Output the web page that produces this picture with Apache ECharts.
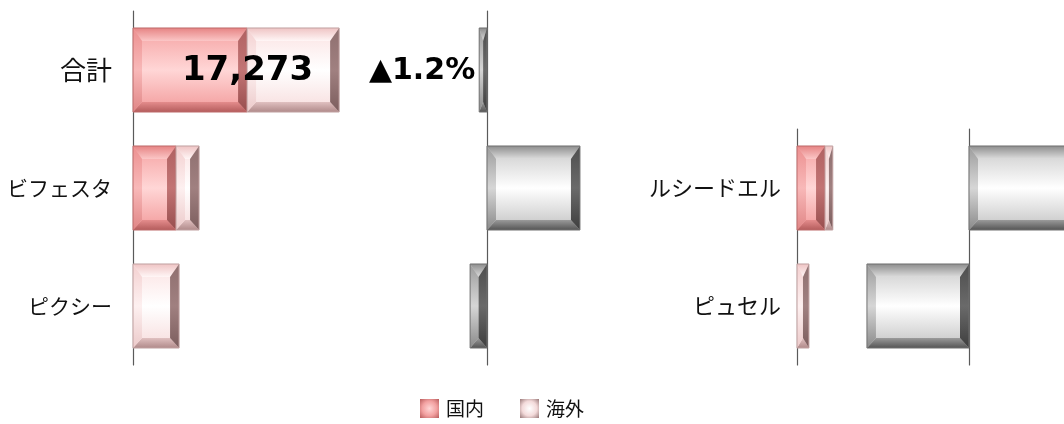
<!DOCTYPE html>
<html><head><meta charset="utf-8">
<script src="https://cdn.jsdelivr.net/npm/echarts@6/dist/echarts.min.js"></script>
<style>html,body{margin:0;padding:0;background:#fff}#c{width:1064px;height:424px}</style>
</head><body><div id="c"></div>
<script>
// ---- data ----
const categoriesA = ['合計', 'ビフェスタ', 'ピクシー'];
const domesticA = [9560, 3605, 0];
const overseasA = [7713, 1930, 3860];
const growthA = [-1.2, 14.3, -2.6];

const categoriesB = ['ルシードエル', 'ピュセル'];
const domesticB = [2350, 0];
const overseasB = [650, 1000];
const growthB = [18.0, -15.7];

const legendNames = ['国内', '海外'];
const labeledCategory = '合計';

// ---- styling ----
const JP = '"Noto Sans CJK JP", "Noto Sans", sans-serif';
const BAR_RATIO = 0.712;
const AXIS_COLOR = '#5a5a5a';

function lin(stops) {
  return {type: 'linear', x: 0, y: 0, x2: 0, y2: 1, global: false,
    colorStops: stops.map(s => ({offset: s[0], color: s[1]}))};
}
const PAL = {
  red: {
    face: [[0, '#f5a2a2'], [0.5, '#ffd6d6'], [1, '#f29a9a']],
    top: [[0, '#e68484'], [1, '#fbc6c6']],
    bottom: [[0, '#e48c8c'], [1, '#b45c5c']],
    left: [[0, '#ec9090'], [0.5, '#f8b8b8'], [1, '#e08686']],
    right: [[0, '#b06262'], [0.5, '#c27474'], [1, '#984e4e']],
    stroke: '#bd6a6a'
  },
  pink: {
    face: [[0, '#fbe2e2'], [0.5, '#ffffff'], [1, '#f7dcdc']],
    top: [[0, '#efc4c4'], [1, '#fff6f6']],
    bottom: [[0, '#e0c0c0'], [1, '#b08a8a']],
    left: [[0, '#f3d0d0'], [0.5, '#fdf0f0'], [1, '#eccaca']],
    right: [[0, '#8f7070'], [0.5, '#a08080'], [1, '#7c5e5e']],
    stroke: '#c0a0a0'
  },
  grey: {
    face: [[0, '#c9c9c9'], [0.5, '#ffffff'], [1, '#c2c2c2']],
    top: [[0, '#8e8e8e'], [1, '#dcdcdc']],
    bottom: [[0, '#9a9a9a'], [1, '#555555']],
    left: [[0, '#9c9c9c'], [0.5, '#d6d6d6'], [1, '#8a8a8a']],
    right: [[0, '#4e4e4e'], [0.5, '#6a6a6a'], [1, '#3e3e3e']],
    stroke: '#707070'
  }
};

function makeRender(pal, cats, labelKind) {
  return function (params, api) {
    const cat = api.value(0), s = api.value(1), e = api.value(2);
    if (s === e) return null;
    const pa = api.coord([s, cat]), pb = api.coord([e, cat]);
    const h = api.size([0, 1])[1] * BAR_RATIO;
    const x0 = Math.min(pa[0], pb[0]), x1 = Math.max(pa[0], pb[0]);
    const y0 = pa[1] - h / 2, y1 = pa[1] + h / 2;
    const w = x1 - x0;
    const bx = Math.min(9, w / 2), bt = Math.min(13, h / 2), bb = Math.min(10, h / 2);
    const children = [
      {type: 'rect', shape: {x: x0, y: y0, width: w, height: h}, style: {fill: lin(pal.face)}},
      {type: 'polygon', shape: {points: [[x0, y0], [x1, y0], [x1 - bx, y0 + bt], [x0 + bx, y0 + bt]]}, style: {fill: lin(pal.top)}},
      {type: 'polygon', shape: {points: [[x0, y1], [x1, y1], [x1 - bx, y1 - bb], [x0 + bx, y1 - bb]]}, style: {fill: lin(pal.bottom)}},
      {type: 'polygon', shape: {points: [[x0, y0], [x0 + bx, y0 + bt], [x0 + bx, y1 - bb], [x0, y1]]}, style: {fill: lin(pal.left)}},
      {type: 'polygon', shape: {points: [[x1, y0], [x1 - bx, y0 + bt], [x1 - bx, y1 - bb], [x1, y1]]}, style: {fill: lin(pal.right)}},
      {type: 'rect', shape: {x: x0, y: y0, width: w, height: h}, style: {fill: 'none', stroke: pal.stroke, lineWidth: 1}}
    ];
    if (labelKind && cats[cat] === labeledCategory) {
      if (labelKind === 'total') {
        children.push({type: 'text', z2: 10, style: {
          text: Math.round(e).toLocaleString('en-US'), x: x1 - 26, y: pa[1] + 1,
          align: 'right', verticalAlign: 'middle',
          fontSize: 34, fontWeight: 'bold', fontFamily: '"DejaVu Sans"', fill: '#000'}});
      } else if (labelKind === 'growth') {
        const v = e;
        const txt = (v < 0 ? '▲' : '') + Math.abs(v).toFixed(1) + '%';
        children.push({type: 'text', z2: 10, style: {
          text: txt, x: v < 0 ? x0 - 4 : x1 + 4, y: pa[1] + 1,
          align: v < 0 ? 'right' : 'left', verticalAlign: 'middle',
          fontSize: 30, fontWeight: 'bold', fontFamily: '"DejaVu Sans"', fill: '#000'}});
      }
    }
    return {type: 'group', children};
  };
}

function stackData(base, vals) {
  return vals.map((v, i) => [i, base ? base[i] : 0, (base ? base[i] : 0) + v]);
}
function growthData(vals) {
  return vals.map((v, i) => [i, 0, v]);
}

const catAxis = (gi, cats, showLabel, fs, margin) => ({
  type: 'category', gridIndex: gi, data: cats, inverse: true,
  axisLine: {show: true, onZero: true, lineStyle: {color: AXIS_COLOR, width: 1.2}},
  axisTick: {show: false}, splitLine: {show: false},
  axisLabel: {show: showLabel, fontSize: fs, margin: margin, color: '#111', fontFamily: JP,
    formatter: v => v === labeledCategory ? '{big|' + v + '}' : v,
    rich: {big: {fontSize: 26, fontFamily: JP, color: '#111'}}}
});
const valAxis = (gi, min, max) => ({
  type: 'value', gridIndex: gi, min: min, max: max, show: false,
  splitLine: {show: false}
});

const chart = echarts.init(document.getElementById('c'), null, {renderer: 'canvas'});
chart.setOption({
  animation: false,
  backgroundColor: '#fff',
  legend: {
    data: [
      {name: legendNames[0], icon: 'rect', itemStyle: {color: {type: 'radial', x: 0.5, y: 0.5, r: 0.7,
        colorStops: [{offset: 0, color: '#ffd6d6'}, {offset: 0.55, color: '#f2a0a0'}, {offset: 1, color: '#b85c5c'}]}}},
      {name: legendNames[1], icon: 'rect', itemStyle: {color: {type: 'radial', x: 0.5, y: 0.5, r: 0.7,
        colorStops: [{offset: 0, color: '#ffffff'}, {offset: 0.55, color: '#f3dada'}, {offset: 1, color: '#9a7a7a'}]}}}
    ],
    left: 420, top: 399, padding: 0, itemWidth: 19, itemHeight: 19, itemGap: 36,
    selectedMode: false,
    textStyle: {fontSize: 19, fontFamily: JP, color: '#111', padding: [0, 0, 0, 2]}
  },
  grid: [
    {left: 133, top: 11, width: 358, height: 354, outerBoundsMode: 'none'},
    {left: 357, top: 11, width: 260, height: 354, outerBoundsMode: 'none'},
    {left: 797, top: 129, width: 358, height: 236, outerBoundsMode: 'none'},
    {left: 839, top: 129, width: 260, height: 236, outerBoundsMode: 'none'}
  ],
  xAxis: [valAxis(0, 0, 30000), valAxis(1, -20, 20), valAxis(2, 0, 30000), valAxis(3, -20, 20)],
  yAxis: [catAxis(0, categoriesA, true, 21, 21), catAxis(1, categoriesA, false, 12, 8),
          catAxis(2, categoriesB, true, 22, 16), catAxis(3, categoriesB, false, 12, 8)],
  series: [
    {type: 'custom', name: legendNames[0], xAxisIndex: 0, yAxisIndex: 0, itemStyle: {color: '#f2a0a0'},
     renderItem: makeRender(PAL.red, categoriesA, null), encode: {x: [1, 2], y: 0},
     data: stackData(null, domesticA)},
    {type: 'custom', name: legendNames[1], xAxisIndex: 0, yAxisIndex: 0, itemStyle: {color: '#f6dcdc'},
     renderItem: makeRender(PAL.pink, categoriesA, 'total'), encode: {x: [1, 2], y: 0},
     data: stackData(domesticA, overseasA)},
    {type: 'custom', name: 'growthA', xAxisIndex: 1, yAxisIndex: 1,
     renderItem: makeRender(PAL.grey, categoriesA, 'growth'), encode: {x: [1, 2], y: 0},
     data: growthData(growthA)},
    {type: 'custom', name: legendNames[0], xAxisIndex: 2, yAxisIndex: 2, itemStyle: {color: '#f2a0a0'},
     renderItem: makeRender(PAL.red, categoriesB, null), encode: {x: [1, 2], y: 0},
     data: stackData(null, domesticB)},
    {type: 'custom', name: legendNames[1], xAxisIndex: 2, yAxisIndex: 2, itemStyle: {color: '#f6dcdc'},
     renderItem: makeRender(PAL.pink, categoriesB, 'total'), encode: {x: [1, 2], y: 0},
     data: stackData(domesticB, overseasB)},
    {type: 'custom', name: 'growthB', xAxisIndex: 3, yAxisIndex: 3,
     renderItem: makeRender(PAL.grey, categoriesB, 'growth'), encode: {x: [1, 2], y: 0},
     data: growthData(growthB)}
  ]
});
</script></body></html>
